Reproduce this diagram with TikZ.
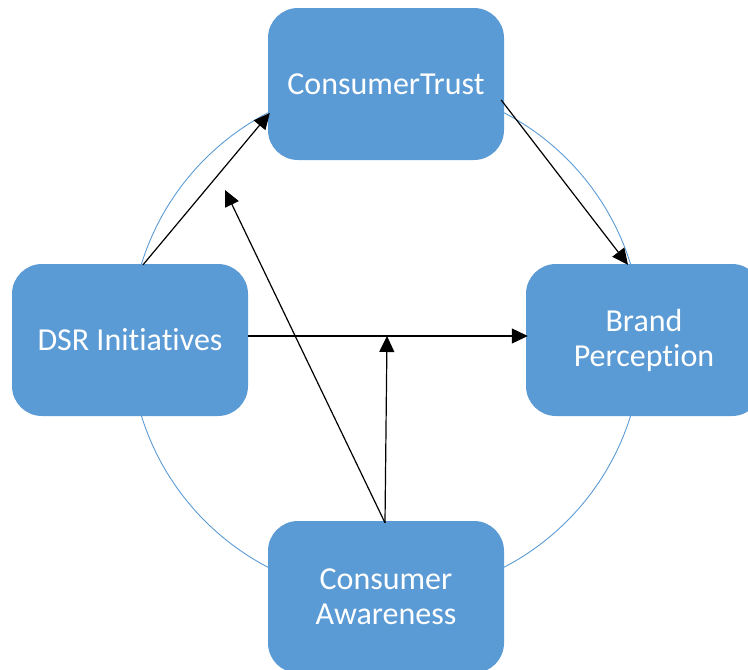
\documentclass[tikz,border=0pt]{standalone}
\usepackage{fontspec}
\setmainfont{Carlito}[Ligatures={NoCommon}]
\usetikzlibrary{arrows.meta,calc}
\definecolor{boxblue}{HTML}{5B9BD5}
\begin{document}
\begin{tikzpicture}[x=1pt,y=-1pt,
  block/.style={fill=boxblue, rounded corners=30pt, minimum width=236pt,
    minimum height=152pt, inner sep=0pt, text=white, align=center,
    font=\fontsize{32}{35}\selectfont},
  link/.style={draw=black, line width=1.2pt,
    -{Triangle[length=16pt,width=15pt]}},
  ring/.style={draw=boxblue, line width=0.9pt}]
  \useasboundingbox (0,0) rectangle (748,670);
  \clip (0,0) rectangle (748,670);
  % background ring joining the four factors
  \draw[ring] (386,340) circle[radius=256];
  % the four factors
  \node[block] (trust) at (386,84) {ConsumerTrust};
  \node[block] (dsr) at (130,340) {DSR Initiatives};
  \node[block] (brand) at (644,340) {Brand\\Perception};
  \node[block] (aware) at (386,597) {Consumer\\Awareness};
  % arrow anchor points
  \coordinate (dsrTop) at ($(dsr.north)+(13,1)$);
  \coordinate (trustIn) at ($(trust.west)+(2,29)$);
  \coordinate (trustOut) at ($(trust.east)+(-3,16)$);
  \coordinate (brandTop) at ($(brand.north)+(-16,1)$);
  \coordinate (dsrOut) at ($(dsr.east)+(0,-4)$);
  \coordinate (brandIn) at ($(brand.west)+(2,-4)$);
  \coordinate (awareTop) at ($(aware.north)+(-1,2)$);
  \coordinate (joint) at (387,336);
  \coordinate (freeEnd) at (225,190);
  % influences
  \draw[link] (dsrTop) -- (trustIn);
  \draw[link] (trustOut) -- (brandTop);
  \draw[link] (dsrOut) -- (brandIn);
  \draw[link] (awareTop) -- (joint);
  \draw[link] (awareTop) -- (freeEnd);
\end{tikzpicture}
\end{document}
